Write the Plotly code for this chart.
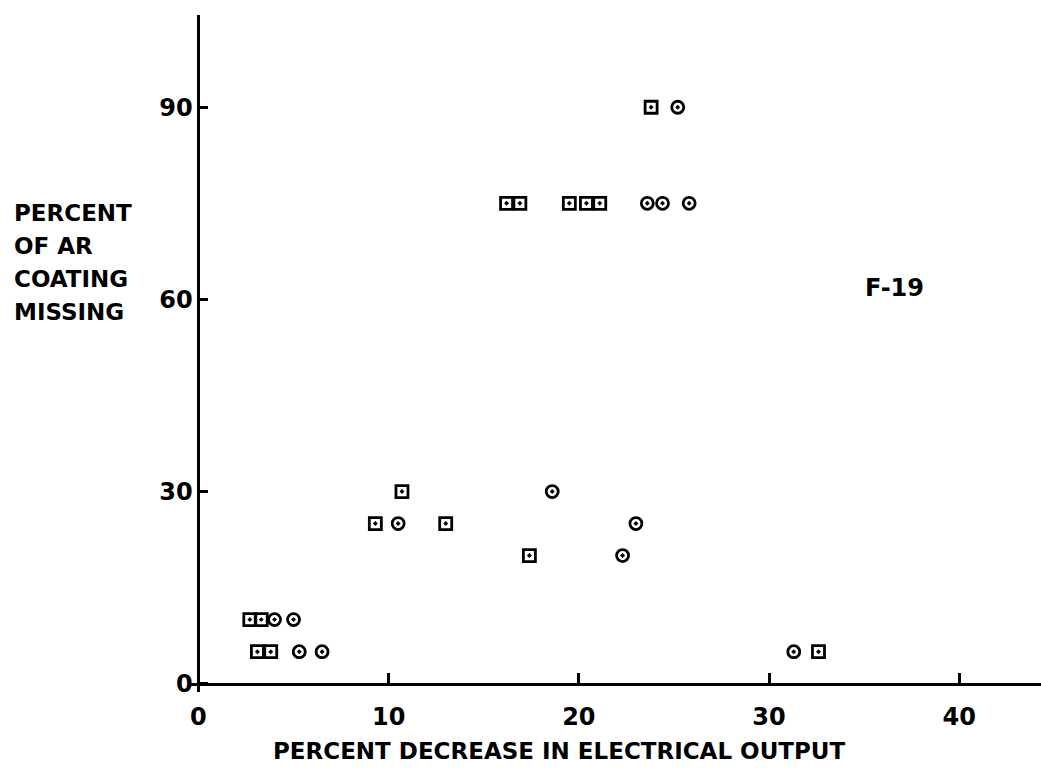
import plotly.graph_objects as go

# ---- data ----
square_x = [2.7, 3.3, 3.1, 3.8, 9.3, 10.7, 13.0, 17.4, 16.2, 16.9, 19.5, 20.4, 21.1, 23.8, 32.6]
square_y = [10, 10, 5, 5, 25, 30, 25, 20, 75, 75, 75, 75, 75, 90, 5]
circle_x = [4.0, 5.0, 5.3, 6.5, 10.5, 18.6, 22.3, 23.0, 23.6, 24.4, 25.8, 25.2, 31.3]
circle_y = [10, 10, 5, 5, 25, 30, 20, 25, 75, 75, 75, 90, 5]
x_ticks = [0, 10, 20, 30, 40]
y_ticks = [0, 30, 60, 90]
x_title = "PERCENT DECREASE IN ELECTRICAL OUTPUT"
y_title_lines = ["PERCENT", "OF AR", "COATING", "MISSING"]
panel_label = "F-19"

# ---- layout geometry ----
W, H = 1041, 770
ML, MR, MT, MB = 188, 0, 15, 78
x_range = [-0.55, 44.3]
y_range = [-1.3, 104.4]
PW, PH = W - ML - MR, H - MT - MB

def px_x(px):
    return (px - ML) / PW

def px_y(py):
    return (H - MB - py) / PH

FONT = "DejaVu Sans"
INK = "black"

fig = go.Figure()
fig.add_trace(go.Scatter(
    x=square_x, y=square_y, mode="markers",
    marker=dict(symbol="square-open-dot", size=12, color=INK, line=dict(width=2.8, color=INK)),
    showlegend=False, cliponaxis=False))
fig.add_trace(go.Scatter(
    x=circle_x, y=circle_y, mode="markers",
    marker=dict(symbol="circle-open-dot", size=12, color=INK, line=dict(width=2.8, color=INK)),
    showlegend=False, cliponaxis=False))

annotations = []
# x-axis title
annotations.append(dict(text=x_title, xref="paper", yref="paper", x=px_x(559), y=px_y(751),
                        xanchor="center", yanchor="middle", showarrow=False,
                        font=dict(family=FONT, size=23, color=INK, weight="bold")))
# y-axis title lines
for i, line in enumerate(y_title_lines):
    annotations.append(dict(text=line, xref="paper", yref="paper", x=px_x(12), y=px_y(213 + 33 * i),
                            xanchor="left", yanchor="middle", showarrow=False, align="left",
                            font=dict(family=FONT, size=23, color=INK, weight="bold")))
# panel label
annotations.append(dict(text=panel_label, xref="x", yref="y", x=36.6, y=61.7,
                        xanchor="center", yanchor="middle", showarrow=False,
                        font=dict(family=FONT, size=24, color=INK, weight="bold")))

x_pos = (0 - y_range[0]) / (y_range[1] - y_range[0])
y_pos = (0 - x_range[0]) / (x_range[1] - x_range[0])

fig.update_layout(
    width=W, height=H,
    margin=dict(l=ML, r=MR, t=MT, b=MB, pad=0),
    paper_bgcolor="white", plot_bgcolor="white",
    annotations=annotations,
    xaxis=dict(range=x_range, tickvals=x_ticks, ticks="inside", ticklen=10, tickwidth=2.5,
               tickcolor=INK, showline=True, linecolor=INK, linewidth=3,
               showgrid=False, zeroline=False, anchor="free", position=x_pos,
               ticklabelstandoff=11,
               tickfont=dict(family=FONT, size=24, color=INK, weight="bold")),
    yaxis=dict(range=y_range, tickvals=y_ticks, ticks="inside", ticklen=8, tickwidth=2.5,
               tickcolor=INK, showline=True, linecolor=INK, linewidth=3,
               showgrid=False, zeroline=False, anchor="free", position=y_pos,
               tickfont=dict(family=FONT, size=24, color=INK, weight="bold")),
)

fig.write_html("out.html",
               config={"displayModeBar": False},
               post_script="document.body.style.margin='0';document.body.style.overflow='hidden';")
